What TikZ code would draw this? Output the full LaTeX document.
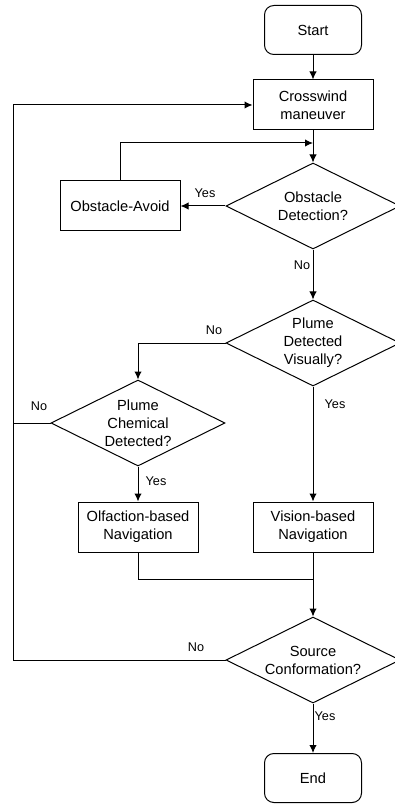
\documentclass[tikz,border=0pt]{standalone}
\usepackage{fontspec}
\setmainfont{Liberation Sans}
\usepackage{tikz}
\usetikzlibrary{arrows,arrows.meta,shapes.geometric}

\begin{document}
\begin{tikzpicture}[x=0.75pt,y=-0.75pt,>={Latex[length=6pt,width=5.5pt]},line width=0.75pt,
	font=\fontsize{11}{13.5}\selectfont,
	term/.style={draw,rounded corners=7pt,minimum width=72.75pt,minimum height=36.75pt,align=center},
	proc/.style={draw,minimum width=90pt,minimum height=37.5pt,align=center},
	decis/.style={draw,diamond,aspect=2,inner sep=0pt,minimum width=130.5pt,minimum height=64.5pt,align=center},
	lbl/.style={font=\fontsize{9.5}{11}\selectfont,inner sep=1pt}]
		\useasboundingbox (0,0) rectangle (394,805);
		\node[term] (start) at (313,30) {Start};
		\node[proc] (crosswind) at (313,105) {Crosswind\\maneuver};
		\node[decis] (obsdet) at (313,206) {Obstacle\\Detection?};
		\node[proc] (avoid) at (120,206) {Obstacle-Avoid};
		\node[decis] (plumevis) at (313,343) {Plume\\Detected\\Visually?};
		\node[decis] (plumechem) at (138,423) {Plume\\Chemical\\Detected?};
		\node[proc] (olfnav) at (138,527) {Olfaction-based\\Navigation};
		\node[proc] (visnav) at (313,527) {Vision-based\\Navigation};
		\node[decis] (source) at (313,660) {Source\\Conformation?};
		\node[term] (stop) at (313,778) {End};
		\coordinate (rail) at (13,0);
		\coordinate (loopin) at (313,143);
		\coordinate (join) at (313,579);
		% connectors
		\draw[->] (start) -- (crosswind);
		\draw[->] (crosswind) -- (obsdet);
		\draw[->] (obsdet) -- (avoid);
		\draw[->] (avoid.north) |- (loopin);
		\draw[->] (obsdet) -- (plumevis);
		\draw[->] (plumevis.west) -| (plumechem.north);
		\draw[->] (plumevis) -- (visnav);
		\draw[->] (plumechem) -- (olfnav);
		\draw (plumechem.west) -- (plumechem.west -| rail);
		\draw (olfnav.south) |- (join);
		\draw[->] (visnav) -- (source);
		\draw[->] (source.west) -| (rail |- crosswind.west) -- (crosswind.west);
		\draw[->] (source) -- (stop);
		% labels
		\node[lbl] (yes1) at (205,193) {Yes};
		\node[lbl] (no1) at (302,265) {No};
		\node[lbl] (no2) at (214,330) {No};
		\node[lbl] (yes2) at (335,404) {Yes};
		\node[lbl] (no3) at (39,406) {No};
		\node[lbl] (yes3) at (156,481) {Yes};
		\node[lbl] (no4) at (196,647) {No};
		\node[lbl] (yes4) at (325,716) {Yes};
	\end{tikzpicture}
\end{document}
